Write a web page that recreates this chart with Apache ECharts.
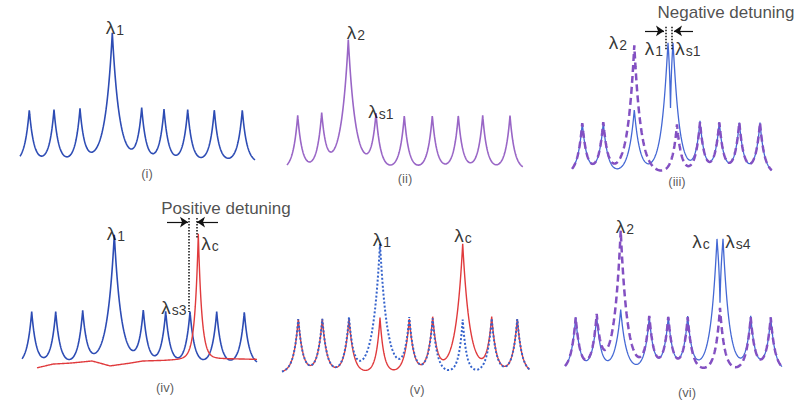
<!DOCTYPE html>
<html><head><meta charset="utf-8">
<script src="https://cdn.jsdelivr.net/npm/echarts@6/dist/echarts.min.js"></script>
<style>html,body{margin:0;padding:0;background:#fff}#c{width:808px;height:404px}</style>
</head><body><div id="c"></div>
<script>
// ---------- DATA (resonance positions in a.u. from each panel's start, amplitudes, linewidths) ----------
// (i) single resonator, lambda1 enhanced
const p1Pos = [9.3, 34, 60, 92.3, 121.7, 144, 167.7, 194.3, 222.3];
const p1Amp = [1.13, 1.13, 1.13, 2.77, 1.13, 1.13, 1.13, 1.13, 1.13];
const p1Wid = [4.5, 4.5, 4.5, 7, 4.5, 4.5, 4.5, 4.5, 4.5];
// (ii) lambda2 enhanced
const p2Pos = [10.7, 34.7, 61.3, 89, 117.3, 145.3, 171.3, 195.7, 223];
const p2Amp = [1.13, 1.13, 2.71, 1.13, 1.13, 1.13, 1.13, 1.13, 1.13];
const p2Wid = [4.5, 4.5, 7, 4.5, 4.5, 4.5, 4.5, 4.5, 4.5];
// (iii) dashed (lambda2 comb) and solid (split lambda1 / lambda_s1)
const p3DashPos = [10.3, 31.3, 62.3, 105, 128, 147.3, 167.3, 188];
const p3DashAmp = [1.13, 1.13, 2.86, 1.09, 1.13, 1.13, 1.13, 1.13];
const p3DashWid = [4.5, 4.5, 6.5, 4.5, 4.5, 4.5, 4.5, 4.5];
const p3SolidPos = [10.3, 31.3, 62.3, 96, 101, 98.5, 128, 147.3, 167.3, 188];
const p3SolidAmp = [1.13, 1.13, 1.42, 2.15, 2.15, -1.37, 1.13, 1.13, 1.13, 1.13];
const p3SolidWid = [4.5, 4.5, 5.5, 6, 6, 1.2, 4.5, 4.5, 4.5, 4.5];
// (iv) blue comb and red lambda_c
const p4BluePos = [9.7, 33.7, 60.7, 92.3, 121.3, 143.7, 168, 194.7, 222.3];
const p4BlueAmp = [1.13, 1.13, 1.13, 2.77, 1.13, 1.13, 1.13, 1.13, 1.13];
const p4BlueWid = [4.5, 4.5, 4.5, 7, 4.5, 4.5, 4.5, 4.5, 4.5];
const p4RedPos = [176.3];
const p4RedAmp = [2.66];
const p4RedWid = [3.5];
const p4RedBaseX = [15, 31, 48, 70, 78, 88, 108, 121, 143, 158, 195, 235];
const p4RedBaseY = [-0.06, 0.02, 0.04, 0.085, 0.04, -0.02, 0.04, 0.085, 0.1, 0.12, 0.14, 0.12];
// (v) red solid and blue dotted
const p5Pos = [16.3, 40.3, 67, 98, 127.3, 150.7, 180.7, 209.7, 235.3];
const p5RedAmp = [1.13, 1.13, 1.13, 1.15, 1.13, 1.13, 2.69, 1.13, 1.13];
const p5RedWid = [4.5, 4.5, 4.5, 3.8, 4.5, 4.5, 7, 4.5, 4.5];
const p5BlueAmp = [1.13, 1.13, 1.13, 2.69, 1.13, 1.13, 1.11, 1.13, 1.13];
const p5BlueWid = [4.5, 4.5, 4.5, 7, 4.5, 4.5, 3.8, 4.5, 4.5];
// (vi) dashed lambda2 comb and solid split lambda_c / lambda_s4
const p6DashPos = [10.7, 31.7, 55.7, 84.3, 103.3, 122.7, 155, 185.7, 205.7];
const p6DashAmp = [1.13, 1.13, 2.98, 1.13, 1.13, 1.13, 1.34, 1.13, 1.13];
const p6DashWid = [4.5, 4.5, 6.5, 4.5, 4.5, 4.5, 4.5, 4.5, 4.5];
const p6SolidPos = [10.7, 31.7, 55.7, 84.3, 103.3, 122.7, 152, 158, 155, 185.7, 205.7];
const p6SolidAmp = [1.13, 1.13, 1.3, 1.13, 1.13, 1.13, 2.12, 2.12, -1.12, 1.13, 1.13];
const p6SolidWid = [4.5, 4.5, 5.5, 4.5, 4.5, 4.5, 6, 6, 1.2, 4.5, 4.5];
const panelCaptions = ['(i)', '(ii)', '(iii)', '(iv)', '(v)', '(vi)'];
const detuningTexts = ['Negative detuning', 'Positive detuning'];

// ---------- helpers ----------
function interp(xs, ys, x) {
  if (x <= xs[0]) return ys[0];
  for (let i = 1; i < xs.length; i++) {
    if (x <= xs[i]) { const t = (x - xs[i-1]) / (xs[i] - xs[i-1]); return ys[i-1] + t * (ys[i] - ys[i-1]); }
  }
  return ys[ys.length - 1];
}
// cusp-shaped resonance profile: amp * exp(-|x - pos| / width)
function spectrum(pos, amp, wid, x0, x1, baseX, baseY) {
  const xs = [];
  for (let x = x0; x <= x1 + 1e-9; x += 0.25) xs.push(+x.toFixed(3));
  pos.forEach(p => { if (p > x0 && p < x1) xs.push(p); });
  xs.sort((a, b) => a - b);
  return xs.map(x => {
    let y = 0;
    for (let i = 0; i < pos.length; i++) y += amp[i] * Math.exp(-Math.abs(x - pos[i]) / wid[i]);
    if (baseX) y += interp(baseX, baseY, x);
    return [x, y];
  });
}

// ---------- layout ----------
const panels = [
  {origin: 20,  span: 235, b0: 163, k: 47, top: 0,   bottom: 190},
  {origin: 287, span: 236, b0: 170, k: 48, top: 0,   bottom: 190},
  {origin: 572, span: 200, b0: 174, k: 45, top: 0,   bottom: 190},
  {origin: 22,  span: 235, b0: 365, k: 47, top: 190, bottom: 404},
  {origin: 282, span: 248, b0: 373, k: 48, top: 190, bottom: 404},
  {origin: 565, span: 217, b0: 371, k: 47, top: 190, bottom: 404}
];
const FONT = 'Liberation Sans, Arial, sans-serif';
const rich = {
  l: {fontSize: 19, lineHeight: 20, fontFamily: FONT, color: '#000', verticalAlign: 'bottom'},
  s: {fontSize: 14, lineHeight: 14, fontFamily: FONT, color: '#000', verticalAlign: 'bottom', padding: [9, 0, 0, 1]},
  c: {fontSize: 13, fontFamily: FONT, color: '#333'},
  t: {fontSize: 17, fontFamily: FONT, color: '#222'}
};
function lam(sub) { return '{l|λ}{s|' + sub + '}'; }

const grid = panels.map(p => ({left: p.origin, width: p.span, top: p.top, height: p.bottom - p.top}));
const xAxis = panels.map((p, i) => ({type: 'value', gridIndex: i, min: 0, max: p.span, show: false}));
const yAxis = panels.map((p, i) => ({type: 'value', gridIndex: i, min: -(p.bottom - p.b0) / p.k, max: (p.b0 - p.top) / p.k, show: false}));

const BLUE = '#2d4cb4', PURPLE = '#9966c6', RED = '#e03a3c', LBLUE = '#4468d4', DPURPLE = '#8350c2';
function line(i, data, color, width, type, extra) {
  return Object.assign({type: 'line', xAxisIndex: i, yAxisIndex: i, data: data, showSymbol: false, symbol: 'none',
    lineStyle: {color: color, width: width, type: type || 'solid'}, z: 2, silent: true}, extra || {});
}
function labels(i, items, markLine) {
  const s = {type: 'scatter', xAxisIndex: i, yAxisIndex: i, symbolSize: 0, clip: false, silent: true, z: 5,
    data: items.map(it => ({value: [it.x, it.y], label: {show: true, position: [0, 0], align: 'center', verticalAlign: 'middle', color: '#222', formatter: it.t, rich: rich}}))};
  if (markLine) s.markLine = markLine;
  return s;
}
function arrows(y, pairs) {
  return {silent: true, symbol: ['none', 'arrow'], symbolSize: 8, animation: false,
    lineStyle: {color: '#111', width: 1.2, type: 'solid'}, label: {show: false},
    data: pairs.map(p => [{coord: [p[0], y]}, {coord: [p[1], y]}])};
}
function dotted(lines) {
  return {silent: true, symbol: ['none', 'none'], animation: false,
    lineStyle: {color: '#111', width: 1.5, type: 'dotted'}, label: {show: false},
    data: lines.map(l => [{coord: [l[0], l[1]]}, {coord: [l[0], l[2]]}])};
}

const series = [
  // (i)
  line(0, spectrum(p1Pos, p1Amp, p1Wid, 0, 235), BLUE, 1.6),
  labels(0, [{t: lam('1'), x: 95, y: 2.89}, {t: '{c|' + panelCaptions[0] + '}', x: 127, y: -0.23}]),
  // (ii)
  line(1, spectrum(p2Pos, p2Amp, p2Wid, 0, 236), PURPLE, 1.6),
  labels(1, [{t: lam('2'), x: 69, y: 2.875}, {t: lam('s1'), x: 94, y: 1.23}, {t: '{c|' + panelCaptions[1] + '}', x: 118, y: -0.17}]),
  // (iii)
  line(2, spectrum(p3SolidPos, p3SolidAmp, p3SolidWid, 0, 200), LBLUE, 1.3, 'solid',
    {markLine: dotted([[94, 3.27, 2.76], [100, 3.27, 2.76]])}),
  line(2, spectrum(p3DashPos, p3DashAmp, p3DashWid, 0, 200), DPURPLE, 2.5, [7, 4], {z: 3}),
  labels(2, [{t: lam('2'), x: 46, y: 2.93}, {t: lam('1'), x: 82, y: 2.8}, {t: lam('s1'), x: 116, y: 2.8},
             {t: '{t|' + detuningTexts[0] + '}', x: 154, y: 3.6}, {t: '{c|' + panelCaptions[2] + '}', x: 105, y: -0.16}],
    arrows(3.18, [[73, 92], [121, 102]])),
  // (iv)
  line(3, spectrum(p4BluePos, p4BlueAmp, p4BlueWid, 0, 235), BLUE, 1.6, 'solid',
    {markLine: dotted([[167, 3.13, 1.13], [175, 3.13, 2.70]])}),
  line(3, spectrum(p4RedPos, p4RedAmp, p4RedWid, 15, 235, p4RedBaseX, p4RedBaseY), RED, 1.4),
  labels(3, [{t: lam('1'), x: 94, y: 2.81}, {t: lam('c'), x: 188, y: 2.6}, {t: lam('s3'), x: 152, y: 1.23},
             {t: '{t|' + detuningTexts[1] + '}', x: 204, y: 3.34}, {t: '{c|' + panelCaptions[3] + '}', x: 143, y: -0.47}],
    arrows(3.04, [[145, 166], [196, 175]])),
  // (v)
  line(4, spectrum(p5Pos, p5RedAmp, p5RedWid, 0, 248), RED, 1.4),
  line(4, spectrum(p5Pos, p5BlueAmp, p5BlueWid, 0, 248), '#3563cc', 2, [2, 2], {z: 3}),
  labels(4, [{t: lam('1'), x: 100, y: 2.79}, {t: lam('c'), x: 181, y: 2.875}, {t: '{c|' + panelCaptions[4] + '}', x: 135, y: -0.35}]),
  // (vi)
  line(5, spectrum(p6SolidPos, p6SolidAmp, p6SolidWid, 0, 217), LBLUE, 1.3),
  line(5, spectrum(p6DashPos, p6DashAmp, p6DashWid, 0, 217), DPURPLE, 2.5, [7, 4], {z: 3}),
  labels(5, [{t: lam('2'), x: 60, y: 3.09}, {t: lam('c'), x: 136, y: 2.77}, {t: lam('s4'), x: 173, y: 2.77},
             {t: '{c|' + panelCaptions[5] + '}', x: 122, y: -0.45}])
];

const chart = echarts.init(document.getElementById('c'), null, {renderer: 'svg', width: 808, height: 404});
chart.setOption({animation: false, backgroundColor: '#fff', grid, xAxis, yAxis, series});
</script></body></html>
